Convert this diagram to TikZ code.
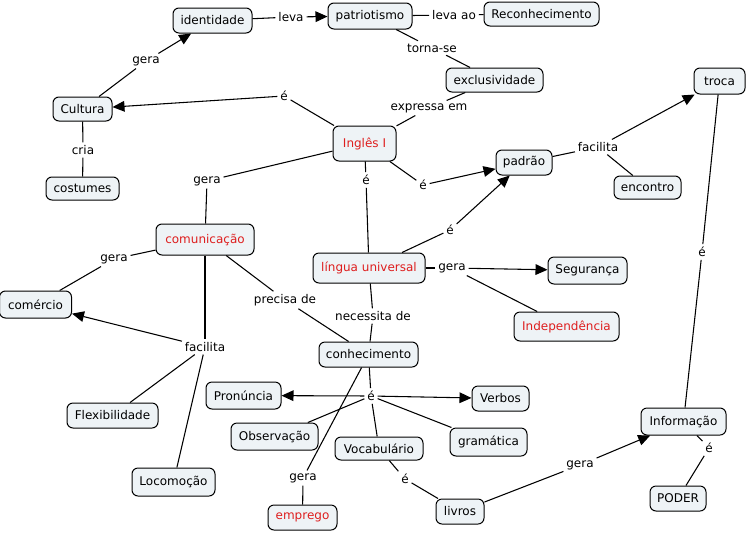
\documentclass[tikz,border=0pt]{standalone}
\usepackage{fontspec}
\setmainfont{DejaVu Sans}
\usetikzlibrary{arrows.meta}
\definecolor{boxfill}{RGB}{238,243,246}
\definecolor{redtxt}{RGB}{222,30,30}
\begin{document}
\begin{tikzpicture}[x=0.75pt,y=-0.75pt,font=\fontsize{9}{11}\selectfont,
  box/.style 2 args={draw, line width=0.75pt, rounded corners=4.5pt, fill=boxfill,
    inner sep=0pt, minimum width=#1*0.75pt, minimum height=#2*0.75pt},
  hot/.style={text=redtxt},
  lab/.style={inner sep=2pt},
  ln/.style={line width=0.8pt},
  arr/.style={ln, -{Triangle[length=9pt,width=8pt]}}]
\useasboundingbox (0,0) rectangle (748,532);
% concepts
\node[box={79}{25}] (ident) at (212.5,20.5) {identidade};
\node[box={84}{26}] (patr) at (370,16) {patriotismo};
\node[box={115}{24}] (recon) at (541.5,14) {Reconhecimento};
\node[box={97}{24}] (excl) at (494.5,80) {exclusividade};
\node[box={59}{24}] (cult) at (82.5,109) {Cultura};
\node[box={73}{23}] (cost) at (82.5,188.5) {costumes};
\node[box={63}{35},hot] (ingl) at (364.5,143.5) {Inglês I};
\node[box={56}{25}] (padr) at (524,162.5) {padrão};
\node[box={67}{23}] (enco) at (647.5,187.5) {encontro};
\node[box={51}{26}] (troc) at (719.5,81) {troca};
\node[box={98}{31},hot] (comu) at (205,239.5) {comunicação};
\node[box={112}{30},hot] (lingu) at (369,268) {língua universal};
\node[box={79}{27}] (segu) at (587.5,270.5) {Segurança};
\node[box={105}{29},hot] (inde) at (566.5,326.5) {Independência};
\node[box={72}{27}] (come) at (35.5,304.5) {comércio};
\node[box={99}{25}] (conh) at (368.5,354.5) {conhecimento};
\node[box={75}{27}] (pron) at (243.5,395.5) {Pronúncia};
\node[box={57}{25}] (verb) at (500.5,398.5) {Verbos};
\node[box={87}{27}] (obse) at (274.5,436.5) {Observação};
\node[box={88}{23}] (voca) at (379,448.5) {Vocabulário};
\node[box={77}{28}] (gram) at (488.5,442) {gramática};
\node[box={91}{25}] (flex) at (112.5,415.5) {Flexibilidade};
\node[box={83}{28}] (loco) at (173.5,482) {Locomoção};
\node[box={69}{25},hot] (empr) at (302.5,517.5) {emprego};
\node[box={48}{25}] (livr) at (460,511.5) {livros};
\node[box={85}{27}] (info) at (683.5,421.5) {Informação};
\node[box={56}{25}] (pode) at (678,498.5) {PODER};
% linking phrases
\node[lab] (lgera1) at (146,61) {gera};
\node[lab] (lleva) at (291,17) {leva};
\node[lab] (llevaao) at (454,15) {leva ao};
\node[lab] (ltorna) at (432,48) {torna-se};
\node[lab] (lexpr) at (429,108) {expressa em};
\node[lab] (le1) at (284,96) {é};
\node[lab] (lcria) at (83,150) {cria};
\node[lab] (lgera2) at (207,181) {gera};
\node[lab] (le2) at (366,180) {é};
\node[lab] (le3) at (423,185) {é};
\node[lab] (le4) at (450,230) {é};
\node[lab] (lfac1) at (598,147) {facilita};
\node[lab] (le5) at (702,252) {é};
\node[lab] (lgera3) at (452,268) {gera};
\node[lab] (lnec) at (373,316) {necessita de};
\node[lab] (lprec) at (285,300) {precisa de};
\node[lab] (lgera4) at (114,259) {gera};
\node[lab] (lfac2) at (205,347) {facilita};
\node[lab] (le6) at (371,396) {é};
\node[lab] (lgera5) at (303,478) {gera};
\node[lab] (le7) at (405,479) {é};
\node[lab] (lgera6) at (580,465) {gera};
\node[lab] (le8) at (709,448) {é};
% connectors
\draw[ln] (cult) -- (lgera1); \draw[arr] (lgera1) -- (ident);
\draw[ln] (ident) -- (lleva); \draw[arr] (lleva) -- (patr);
\draw[ln] (patr) -- (llevaao); \draw[ln] (llevaao) -- (recon);
\draw[ln] (patr) -- (ltorna); \draw[ln] (ltorna) -- (excl);
\draw[ln] (excl) -- (lexpr); \draw[ln] (lexpr) -- (ingl);
\draw[ln] (ingl) -- (le1); \draw[arr] (le1) -- (cult);
\draw[ln] (cult) -- (lcria); \draw[ln] (lcria) -- (cost);
\draw[ln] (ingl) -- (lgera2); \draw[ln] (lgera2) -- (comu);
\draw[ln] (ingl) -- (le2); \draw[ln] (le2) -- (lingu);
\draw[ln] (ingl) -- (le3); \draw[arr] (le3) -- (padr);
\draw[ln] (lingu) -- (le4); \draw[arr] (le4) -- (padr);
\draw[ln] (padr) -- (lfac1); \draw[arr] (lfac1) -- (troc); \draw[ln] (lfac1) -- (enco);
\draw[ln] (troc) -- (le5); \draw[ln] (le5) -- (info);
\draw[ln] (lingu) -- (lgera3); \draw[arr] (lgera3) -- (segu); \draw[ln] (lgera3) -- (inde);
\draw[ln] (lingu) -- (lnec); \draw[ln] (lnec) -- (conh);
\draw[ln] (comu) -- (lprec); \draw[ln] (lprec) -- (conh);
\draw[ln] (comu) -- (lgera4); \draw[ln] (lgera4) -- (come);
\draw[ln] (comu) -- (lfac2); \draw[arr] (lfac2) -- (come);
\draw[ln] (lfac2) -- (flex); \draw[ln] (lfac2) -- (loco);
\draw[ln] (conh) -- (le6); \draw[arr] (le6) -- (pron); \draw[arr] (le6) -- (verb);
\draw[ln] (le6) -- (obse); \draw[ln] (le6) -- (voca); \draw[ln] (le6) -- (gram);
\draw[ln] (conh) -- (lgera5); \draw[ln] (lgera5) -- (empr);
\draw[ln] (voca) -- (le7); \draw[ln] (le7) -- (livr);
\draw[ln] (livr) -- (lgera6); \draw[arr] (lgera6) -- (info);
\draw[ln] (info) -- (le8); \draw[ln] (le8) -- (pode);
\end{tikzpicture}
\end{document}
